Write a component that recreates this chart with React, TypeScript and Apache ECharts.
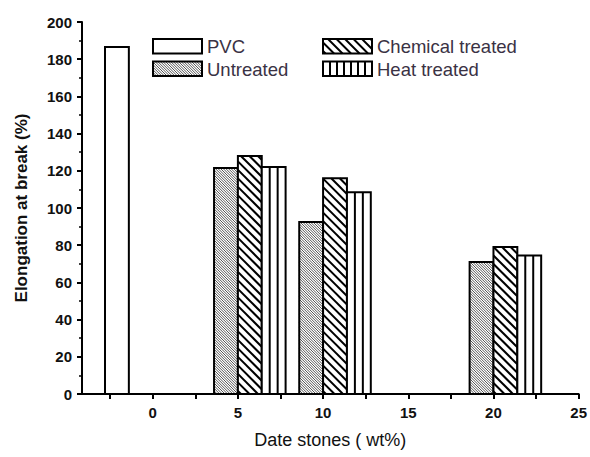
import React, { useEffect, useRef } from "react";
import * as echarts from "echarts";

// ---- data ----
const loadings = [0, 5, 10, 20]; // Date stones (wt%)
const pvcValues = [186.5, null, null, null];
const untreatedValues = [null, 121.5, 92.5, 71];
const chemicalValues = [null, 128, 116, 79];
const heatValues = [null, 122, 108.5, 74.5];
const seriesNames = ["PVC", "Untreated", "Chemical treated", "Heat treated"];
const xTickLabels = [0, 5, 10, 15, 20, 25];
const xTickMarks = [-2.5, 0, 2.5, 5, 7.5, 10, 12.5, 15, 17.5, 20, 22.5, 25];

const FONT = "'Liberation Sans', Arial, sans-serif";
const BAR_W = 1.4; // bar width in x units
const kinds = ["plain", "dense", "diag", "vert"];
const GRID = { left: 82, right: 10, top: 22, bottom: 63 };

function diagLines(x0: number, y0: number, x1: number, y1: number, d: number, color: string, lw: number) {
  const out: any[] = [];
  let c = Math.ceil((y0 - x1) / d) * d;
  for (; c <= y1 - x0; c += d) {
    const xa = Math.max(x0, y0 - c);
    const xb = Math.min(x1, y1 - c);
    if (xb > xa) {
      out.push({
        type: "line",
        silent: true,
        shape: { x1: xa, y1: xa + c, x2: xb, y2: xb + c },
        style: { stroke: color, lineWidth: lw },
      });
    }
  }
  return out;
}

function vertLines(x0: number, y0: number, x1: number, y1: number, spacing: number) {
  const out: any[] = [];
  const n = Math.max(1, Math.round((x1 - x0) / spacing));
  const step = (x1 - x0) / n;
  for (let i = 1; i < n; i++) {
    const x = x0 + i * step;
    out.push({
      type: "line",
      silent: true,
      shape: { x1: x, y1: y0, x2: x, y2: y1 },
      style: { stroke: "#000", lineWidth: 2 },
    });
  }
  return out;
}

function swatch(kind: string, x0: number, y0: number, x1: number, y1: number) {
  const els: any[] = [
    { type: "rect", silent: true, shape: { x: x0, y: y0, width: x1 - x0, height: y1 - y0 }, style: { fill: "#fff", stroke: null } },
  ];
  if (kind === "dense") els.push(...diagLines(x0, y0, x1, y1, 2.6, "#555", 1));
  if (kind === "diag") els.push(...diagLines(x0, y0, x1, y1, 8.5, "#000", 2));
  if (kind === "vert") els.push(...vertLines(x0, y0, x1, y1, 7.5));
  els.push({
    type: "rect",
    silent: true,
    shape: { x: x0, y: y0, width: x1 - x0, height: y1 - y0 },
    style: { fill: "none", stroke: "#000", lineWidth: 2 },
  });
  return els;
}

function makeSeries(name: string, values: (number | null)[], k: number) {
  return {
    name,
    type: "custom",
    clip: false,
    data: loadings.map((x, i) => [x, values[i]]).filter((d) => d[1] !== null),
    renderItem: (params: any, api: any) => {
      const x = api.value(0);
      const v = api.value(1);
      const tl = api.coord([x + (k - 2) * BAR_W, v]);
      const br = api.coord([x + (k - 1) * BAR_W, 0]);
      return { type: "group", children: swatch(kinds[k], tl[0], tl[1], br[0], br[1]) };
    },
  };
}

function legendGraphic() {
  const items = [
    { k: 0, x: 153, y: 39 },
    { k: 1, x: 153, y: 61.5 },
    { k: 2, x: 323, y: 39 },
    { k: 3, x: 323, y: 61.5 },
  ];
  const els: any[] = [];
  items.forEach((it) => {
    els.push({ type: "group", children: swatch(kinds[it.k], it.x, it.y, it.x + 49, it.y + 14.5) });
    els.push({
      type: "text",
      x: it.x + 54,
      y: it.y + 7.5,
      style: {
        text: seriesNames[it.k],
        font: `18.5px ${FONT}`,
        fill: "#3a3244",
        textVerticalAlign: "middle",
        textAlign: "left",
      },
    });
  });
  return els;
}

export default function App() {
  const ref = useRef<HTMLDivElement>(null);
  useEffect(() => {
    if (!ref.current) return;
    const chart = echarts.init(ref.current, null, { renderer: "svg" });
    chart.setOption({
      animation: false,
      backgroundColor: "#fff",
      grid: { ...GRID, containLabel: false },
      xAxis: {
        type: "value",
        min: -4.15,
        max: 25,
        name: "Date stones ( wt%)",
        nameLocation: "middle",
        nameGap: 37,
        nameTextStyle: { fontFamily: FONT, fontSize: 18, color: "#111" },
        axisLine: { show: true, onZero: false, lineStyle: { color: "#000", width: 2 } },
        axisTick: { show: true, customValues: xTickMarks, length: 5, lineStyle: { color: "#000", width: 2 } },
        axisLabel: {
          customValues: xTickLabels,
          fontFamily: FONT,
          fontSize: 15,
          fontWeight: "bold",
          color: "#111",
          margin: 11,
        },
        splitLine: { show: false },
      },
      yAxis: {
        type: "value",
        min: 0,
        max: 200,
        interval: 20,
        name: "Elongation at break (%)",
        nameLocation: "middle",
        nameGap: 52,
        nameTextStyle: { fontFamily: FONT, fontSize: 17, fontWeight: "bold", color: "#111" },
        axisLine: { show: true, onZero: false, lineStyle: { color: "#000", width: 2 } },
        axisTick: { show: true, length: 5, lineStyle: { color: "#000", width: 2 } },
        minorTick: { show: true, splitNumber: 2, length: 3, lineStyle: { color: "#000", width: 1.5 } },
        axisLabel: { fontFamily: FONT, fontSize: 15, fontWeight: "bold", color: "#111", margin: 10 },
        splitLine: { show: false },
        minorSplitLine: { show: false },
      },
      series: [
        makeSeries(seriesNames[0], pvcValues, 0),
        makeSeries(seriesNames[1], untreatedValues, 1),
        makeSeries(seriesNames[2], chemicalValues, 2),
        makeSeries(seriesNames[3], heatValues, 3),
      ],
      graphic: legendGraphic(),
    });
    return () => chart.dispose();
  }, []);
  return (
    <div
      ref={ref}
      style={{ position: "fixed", left: 0, top: 0, width: 590, height: 457, background: "#fff" }}
    />
  );
}
